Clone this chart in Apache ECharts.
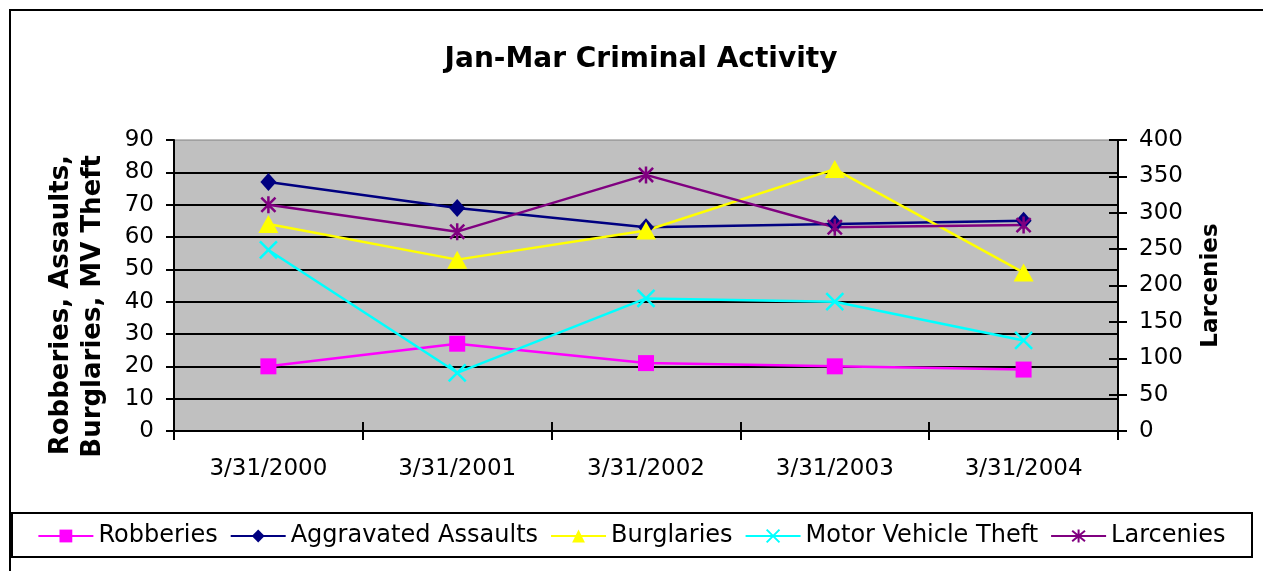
<!DOCTYPE html>
<html>
<head>
<meta charset="utf-8">
<script src="https://cdn.jsdelivr.net/npm/echarts@6/dist/echarts.min.js"></script>
<style>
  html, body { margin: 0; padding: 0; background: #fff; }
  #main { width: 1263px; height: 571px; }
</style>
</head>
<body>
<div id="main"></div>
<script>
var categories = ['3/31/2000', '3/31/2001', '3/31/2002', '3/31/2003', '3/31/2004'];
var robberies = [20, 27, 21, 20, 19];
var assaults = [77, 69, 63, 64, 65];
var burglaries = [64, 53, 62, 81, 49];
var mvTheft = [56, 18, 41, 40, 28];
var larcenies = [311, 274, 352, 280, 283];

var leftMax = 90, leftStep = 10;
var rightMax = 400, rightStep = 50;

var font = '"DejaVu Sans", Verdana, sans-serif';
var chart = echarts.init(document.getElementById('main'));

// excel style: colour, marker
function lineSeries(name, data, color, symbol, size, axis, stroke) {
  return {
    name: name,
    type: 'line',
    data: data,
    yAxisIndex: axis,
    symbol: symbol,
    symbolSize: size,
    symbolKeepAspect: true,
    lineStyle: { color: color, width: 2.5 },
    itemStyle: stroke ? { color: color, borderColor: color, borderWidth: 2.5 } : { color: color, borderWidth: 0 },
    emphasis: { disabled: true },
    z: 3
  };
}

var option = {
  animation: false,
  title: {
    text: 'Jan-Mar Criminal Activity',
    left: 636, top: 41,
    textAlign: 'center',
    textStyle: { fontFamily: font, fontSize: 28, fontWeight: 'bold', color: '#000' }
  },
  graphic: [
    { type: 'rect', shape: { x: 10, y: 10, width: 1300, height: 600 }, style: { fill: 'none', stroke: '#000', lineWidth: 2 }, silent: true },
    { type: 'rect', shape: { x: 12, y: 513, width: 1240, height: 44 }, style: { fill: '#fff', stroke: '#000', lineWidth: 2 }, silent: true, z: 0 },
    // left axis title, lines right aligned like excel
    {
      type: 'text', x: 77, y: 155, rotation: Math.PI / 2, silent: true,
      style: {
        text: 'Robberies, Assaults,\nBurglaries, MV Theft',
        align: 'right', verticalAlign: 'middle', lineHeight: 32,
        font: 'bold 26px "DejaVu Sans", Verdana, sans-serif', fill: '#000'
      }
    }
  ],
  legend: {
    left: 'center', top: 519,
    itemWidth: 55, itemHeight: 16, itemGap: 12,
    textStyle: { fontFamily: font, fontSize: 24, color: '#000' },
    z: 5
  },
  grid: {
    left: 174, right: 145, top: 140, bottom: 140,
    show: true, backgroundColor: '#C0C0C0', borderColor: '#808080', borderWidth: 1
  },
  xAxis: [{
    type: 'category',
    data: categories,
    boundaryGap: true,
    axisLine: { lineStyle: { color: '#000', width: 2 } },
    axisTick: { show: true, length: 9, lineStyle: { color: '#000', width: 2 } },
    axisLabel: { margin: 27, fontFamily: font, fontSize: 23, color: '#000' },
    splitLine: { show: false }
  }, {
    type: 'category',
    data: categories,
    position: 'bottom',
    axisLine: { show: false },
    axisTick: { show: true, inside: true, length: 9, lineStyle: { color: '#000', width: 2 } },
    axisLabel: { show: false },
    splitLine: { show: false }
  }],
  yAxis: [{
    type: 'value',
    min: 0, max: leftMax, interval: leftStep,
    axisLine: { show: true, lineStyle: { color: '#000', width: 2 } },
    axisTick: { show: true, length: 8, lineStyle: { color: '#000', width: 2 } },
    axisLabel: { margin: 20, fontFamily: font, fontSize: 23, color: '#000' },
    splitLine: { show: true, showMaxLine: false, lineStyle: { color: '#000', width: 2 } }
  }, {
    type: 'value',
    position: 'right',
    min: 0, max: rightMax, interval: rightStep,
    name: 'Larcenies',
    nameLocation: 'middle', nameRotate: 90, nameGap: 82,
    nameTextStyle: { fontFamily: font, fontSize: 23, fontWeight: 'bold', color: '#000' },
    axisLine: { show: true, lineStyle: { color: '#000', width: 2 } },
    axisTick: { show: true, length: 9, lineStyle: { color: '#000', width: 2 } },
    axisLabel: { margin: 21, fontFamily: font, fontSize: 23, color: '#000' },
    splitLine: { show: false }
  }, {
    type: 'value',
    position: 'right',
    min: 0, max: rightMax, interval: rightStep,
    axisLine: { show: false },
    axisTick: { show: true, inside: true, length: 9, lineStyle: { color: '#000', width: 2 } },
    axisLabel: { show: false },
    splitLine: { show: false }
  }],
  series: [
    lineSeries('Robberies', robberies, '#FF00FF', 'rect', 16, 0, false),
    lineSeries('Aggravated Assaults', assaults, '#000080', 'diamond', [16, 18], 0, false),
    lineSeries('Burglaries', burglaries, '#FFFF00', 'triangle', [20, 18], 0, false),
    lineSeries('Motor Vehicle Theft', mvTheft, '#00FFFF', 'path://M0,0L10,10M10,0L0,10', 17, 0, true),
    lineSeries('Larcenies', larcenies, '#800080', 'path://M0,0L10,10M10,0L0,10M5,-1L5,11', 17, 1, true)
  ]
};

chart.setOption(option);
</script>
</body>
</html>
